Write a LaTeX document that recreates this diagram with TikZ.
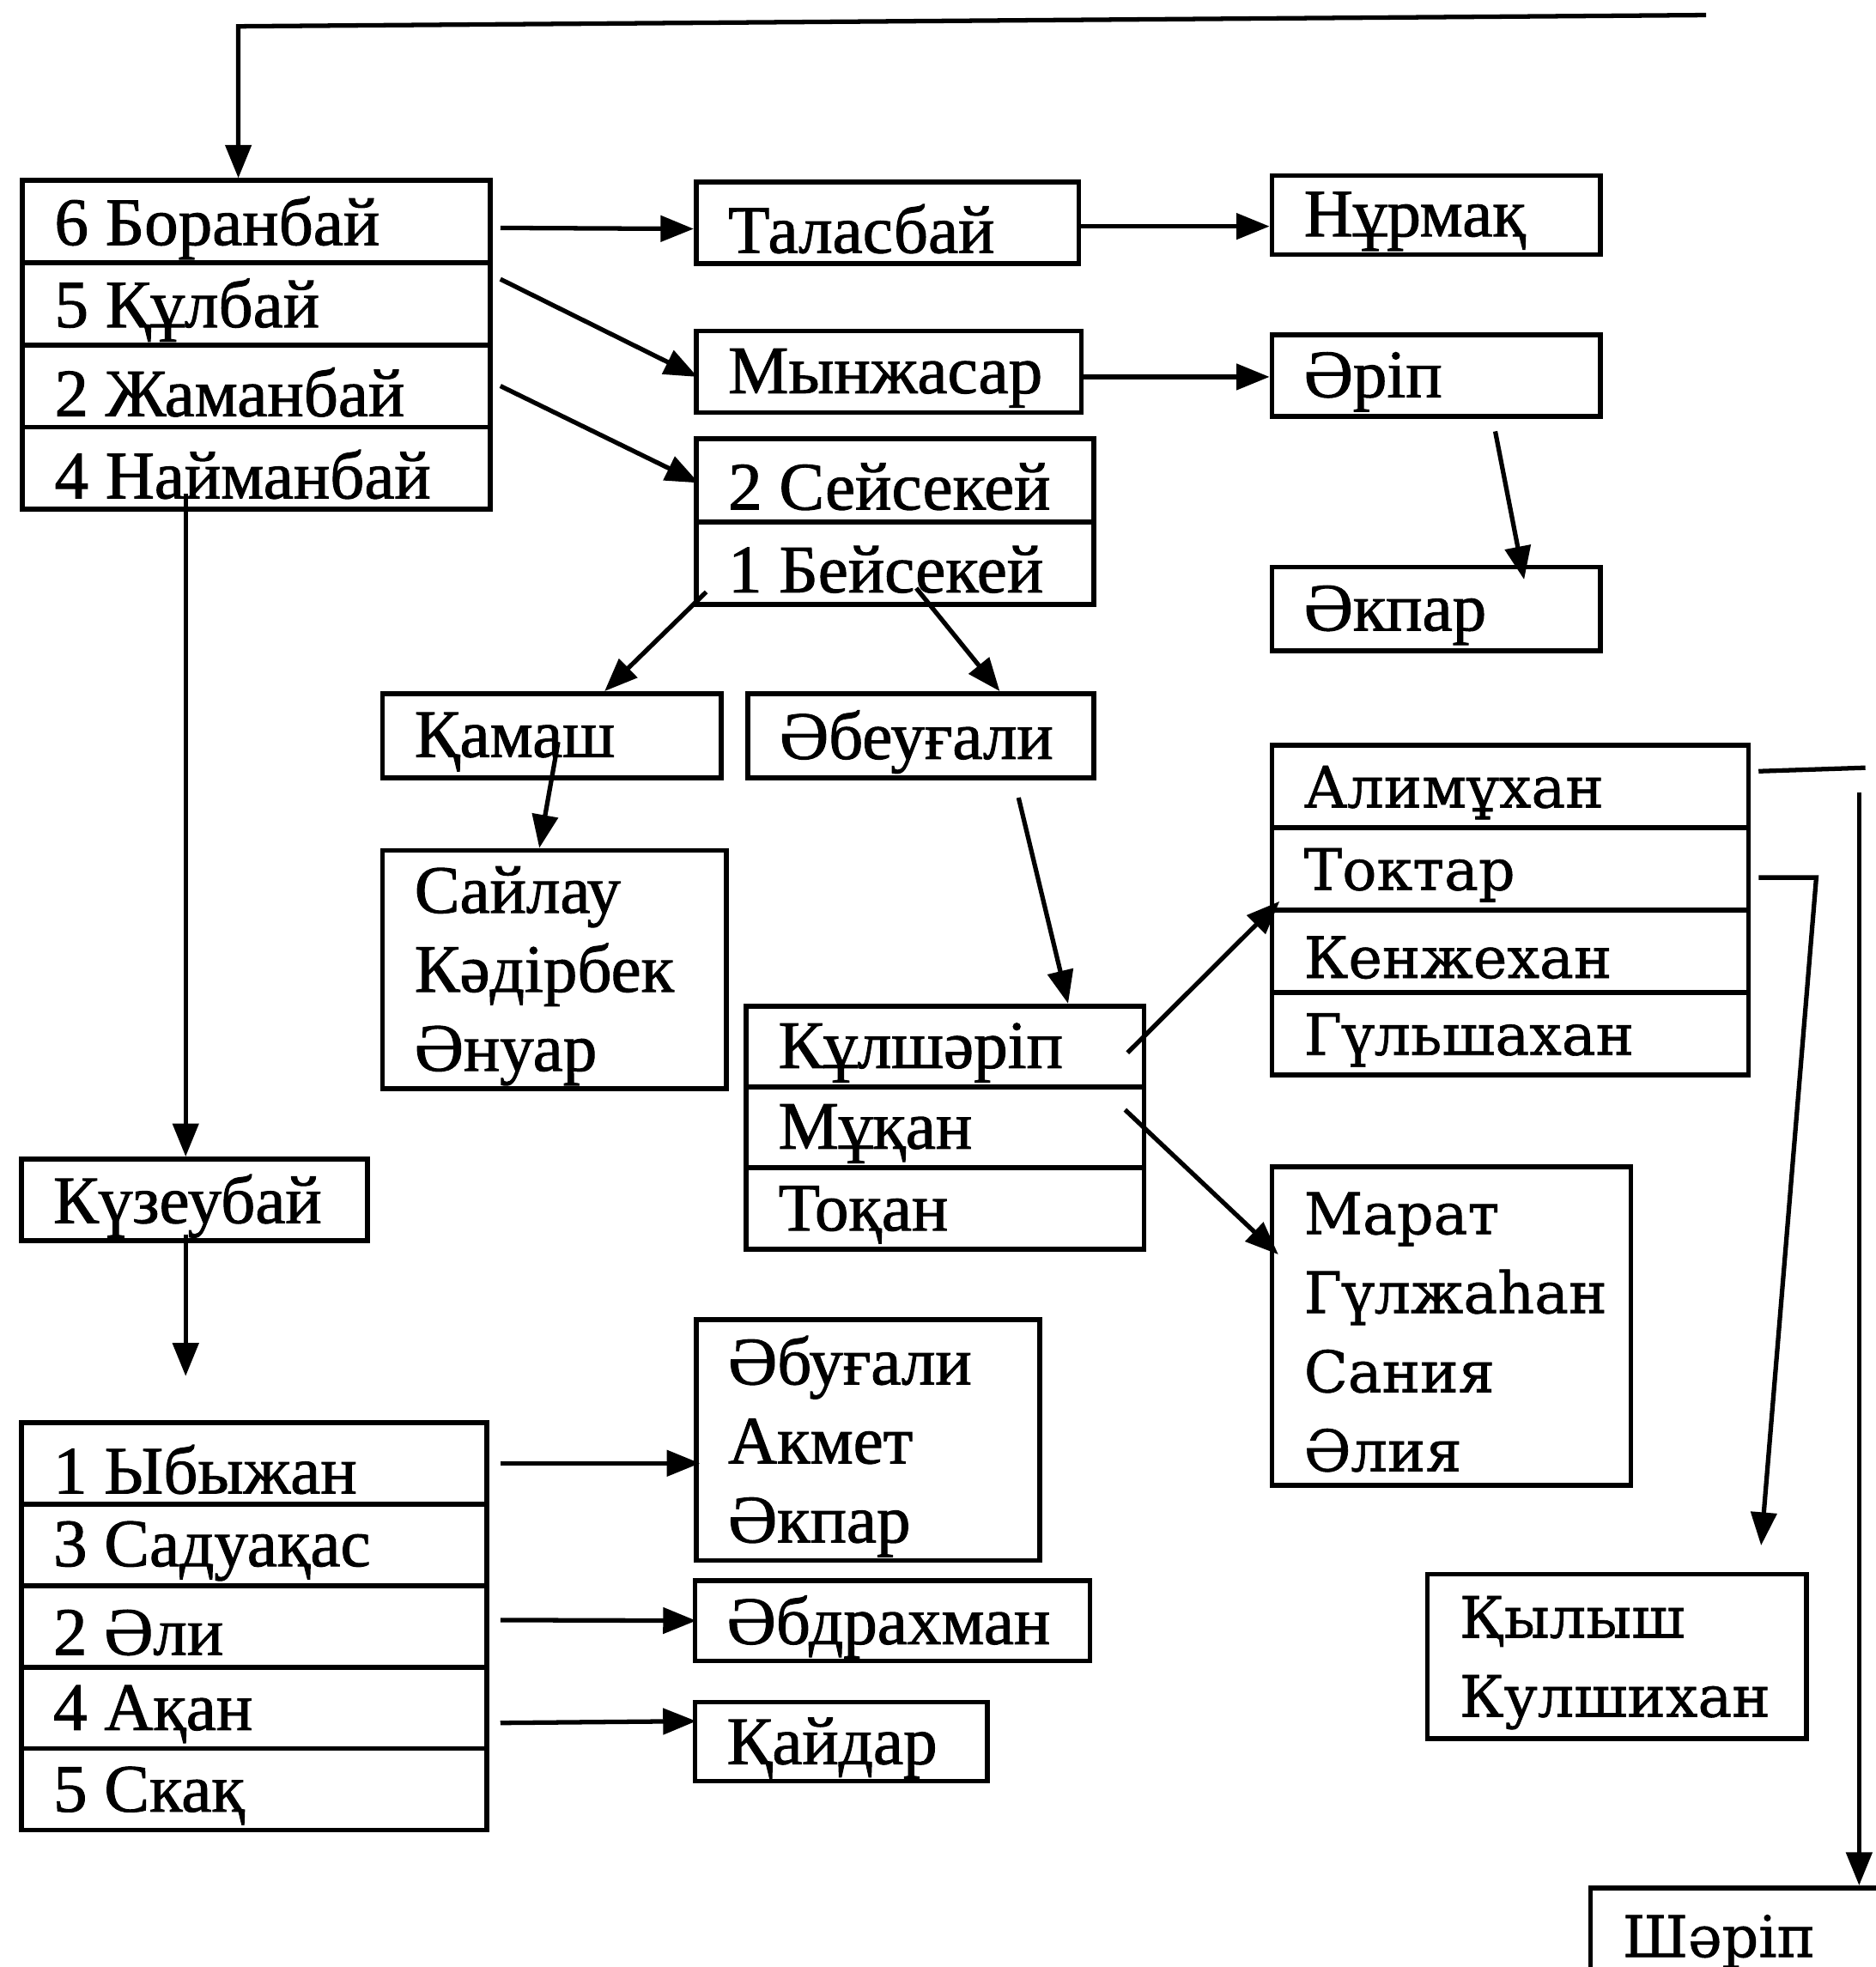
\documentclass[tikz,border=0pt]{standalone}
\usepackage{fontspec}
\setmainfont{Liberation Serif}[FakeBold=1.2]
\newfontfamily\wideserif{DejaVu Serif}[FakeBold=0.9]
\usetikzlibrary{arrows.meta,calc}
\newlength\dpx
\setlength\dpx{0.014615cm}
\newcommand\tfont{\fontsize{22.5}{26.2}\selectfont}
\newcommand\wfont{\wideserif\fontsize{19}{26.2}\selectfont}
\newcommand\mkcell[7]{%
  \node[box, minimum width={#4*\dpx}, minimum height={#5*\dpx}] (#1) at (#2,#3) {};
  \node[txt, font=#6] (#1t) at ($(#1.west)+(27,5)$) {#7};}
\begin{document}
\begin{tikzpicture}[x=0.014615cm,y=-0.014615cm,
  box/.style={draw, line width=1.6pt, anchor=north west, inner sep=0pt},
  txt/.style={anchor=west, inner sep=0pt, align=left},
  arr/.style={line width=1.5pt, -{Triangle[length=11pt,width=8.5pt]}},
  ln/.style={line width=1.5pt}]
\useasboundingbox (0,0) rectangle (1495,1568);
% left column
\mkcell{a1}{16}{142}{373}{65.5}{\tfont}{6 Боранбай}
\mkcell{a2}{16}{207.5}{373}{65.5}{\tfont}{5 Құлбай}
\mkcell{a3}{16}{273}{373}{65.5}{\tfont}{2 Жаманбай}
\mkcell{a4}{16}{338.5}{373}{65.5}{\tfont}{4 Найманбай}
\mkcell{kz}{15}{922}{276}{65}{\tfont}{Күзеубай}
\mkcell{y1}{15}{1132}{371}{65}{\tfont}{1 Ыбыжан}
\mkcell{y2}{15}{1197}{371}{65}{\tfont}{3 Садуақас}
\mkcell{y3}{15}{1262}{371}{65}{\tfont}{2 Әли}
\mkcell{y4}{15}{1327}{371}{65}{\tfont}{4 Ақан}
\mkcell{y5}{15}{1392}{371}{65}{\tfont}{5 Скақ}
% middle column
\mkcell{t}{553}{143}{305}{65}{\tfont}{Таласбай}
\mkcell{m}{553}{262}{307}{65}{\tfont}{Мынжасар}
\mkcell{s1}{553}{348}{317}{66}{\tfont}{2 Сейсекей}
\mkcell{s2}{553}{414}{317}{66}{\tfont}{1 Бейсекей}
\mkcell{q}{303}{551}{270}{67}{\tfont}{Қамаш}
\mkcell{b}{594}{551}{276}{67}{\tfont}{Әбеуғали}
\mkcell{sl}{303}{676}{274}{190}{\tfont}{Сайлау\\Кәдірбек\\Әнуар}
\mkcell{c1}{593}{800}{317}{64.5}{\tfont}{Кұлшәріп}
\mkcell{c2}{593}{864.5}{317}{64.5}{\tfont}{Мұқан}
\mkcell{c3}{593}{929}{317}{65}{\tfont}{Тоқан}
\mkcell{ab}{553}{1050}{274}{192}{\tfont}{Әбуғали\\Акмет\\Әкпар}
\mkcell{ad}{552}{1258}{315}{64}{\tfont}{Әбдрахман}
\mkcell{kd}{552}{1355}{233}{63}{\tfont}{Қайдар}
% right column
\mkcell{n}{1012}{138}{262}{63}{\tfont}{Нұрмақ}
\mkcell{e}{1012}{265}{262}{65}{\tfont}{Әріп}
\mkcell{k}{1012}{450}{262}{67}{\tfont}{Әкпар}
\mkcell{r1}{1012}{592}{380}{65.75}{\wfont}{Алимұхан}
\mkcell{r2}{1012}{657.75}{380}{65.75}{\wfont}{Токтар}
\mkcell{r3}{1012}{723.5}{380}{65.75}{\wfont}{Кенжехан}
\mkcell{r4}{1012}{789.25}{380}{65.75}{\wfont}{Гүльшахан}
\mkcell{mr}{1012}{928}{286}{254}{\wfont}{Марат\\Гүлжаһан\\Сания\\Әлия}
\mkcell{ql}{1136}{1253}{302}{131}{\wfont}{Қылыш\\Кулшихан}
\mkcell{sh}{1266}{1503}{260}{76}{\wfont}{Шәріп}
% free ends
\coordinate (topR) at (1360,12);
\coordinate (topL) at (190,21);
\coordinate (hR) at (1487,612);
\coordinate (vT) at (1482,632);
\coordinate (tk) at ($(r2.east)+(52,7)$);
% connectors
\draw[arr] (topR) -- (topL) -- (topL |- a1.north);
\draw[arr] ($(a1.east)+(6,5)$) -- ($(t.west)+(0,5)$);
\draw[arr] ($(t.east)+(0,3)$) -- ($(n.west |- t.east)+(0,3)$);
\draw[arr] ($(a2.north east)+(6,15)$) -- ($(m.west)+(3,4)$);
\draw[arr] ($(a3.east)+(6,0)$) -- ($(s1.west)+(4,2)$);
\draw[arr] ($(m.east)+(0,4)$) -- ($(e.west)+(0,1)$);
\draw[arr] ($(e.south)+(47,10)$) -- ($(k.north)+(70,12)$);
\draw[arr] ($(s2.south west)+(10,-12)$) -- ($(q.north)+(42,0)$);
\draw[arr] ($(s2.south)+(17,-15)$) -- ($(b.north)+(63,0)$);
\draw[arr] ($(q.center)+(5,5)$) -- ($(sl.north)+(-12,0)$);
\draw[arr] ($(b.south)+(78,14)$) -- ($(c1.north)+(98,0)$);
\draw[arr] ($(c1.east)+(-15,5)$) -- ($(r3.north west)+(8,-5)$);
\draw[arr] ($(c2.east)+(-17,-14)$) -- ($(mr.north west)+(7,72)$);
\draw[arr] ($(a4.south west)+(132,-14)$) -- ($(kz.north west)+(133,0)$);
\draw[arr] ($(kz.south west)+(133,-7)$) -- ($(y1.north west)+(133,-35)$);
\draw[arr] ($(y1.east)+(9,0)$) -- ($(ab.west |- y1.east)+(5,0)$);
\draw[arr] ($(y3.east)+(9,-5)$) -- ($(ad.west)+(3,0)$);
\draw[arr] ($(y4.east)+(9,12)$) -- ($(kd.north west)+(3,17)$);
\draw[arr] ($(r2.east)+(6,7)$) -- (tk) -- ($(ql.north east)+(-38,-21)$);
\draw[ln] ($(r1.east)+(6,-12)$) -- (hR);
\draw[arr] (vT) -- (vT |- sh.north);
\end{tikzpicture}
\end{document}
